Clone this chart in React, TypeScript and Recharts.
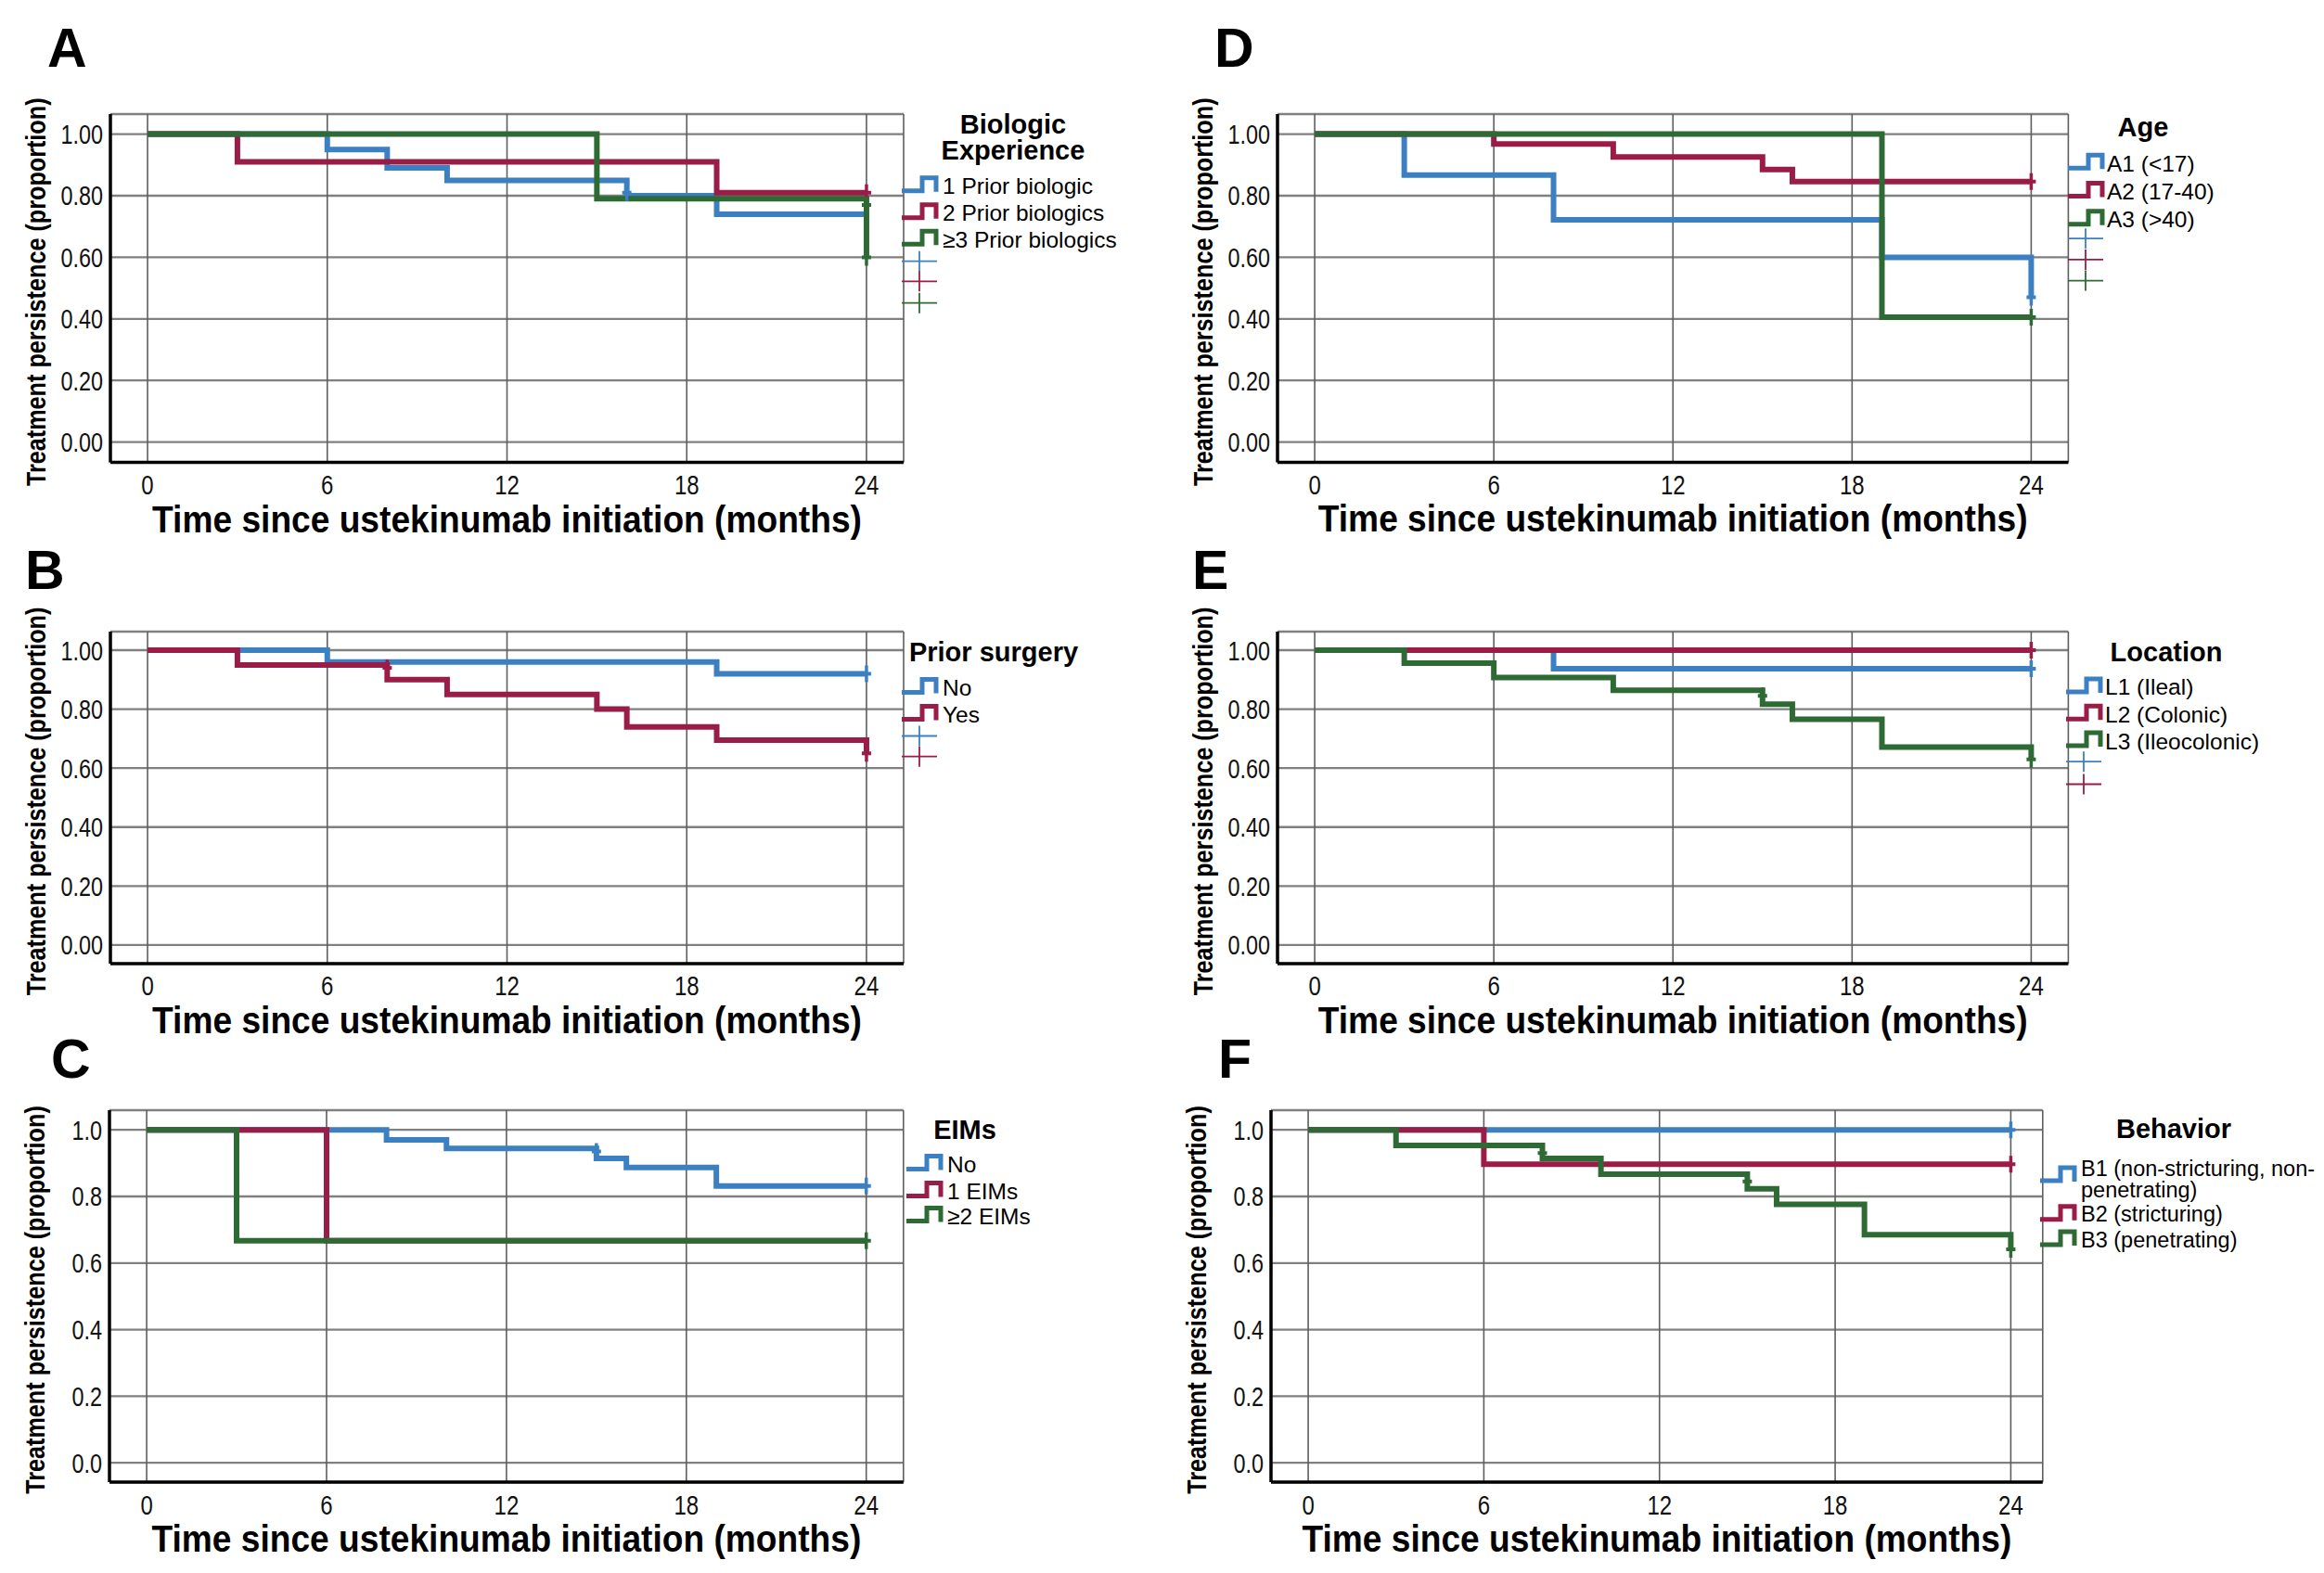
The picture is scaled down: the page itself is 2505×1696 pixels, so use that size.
import React from 'react';
import { ComposedChart, Line, Scatter, XAxis, YAxis, CartesianGrid, Label } from 'recharts';

const BLUE = '#3c80c2';
const RED = '#991d47';
const GREEN = '#2e6b34';
const SANS = '"Liberation Sans", Arial, sans-serif';
const X_TITLE = 'Time since ustekinumab initiation (months)';
const Y_TITLE = 'Treatment persistence (proportion)';

const monthTicks = [0, 6, 12, 18, 24];
const proportionTicks = [0, 0.2, 0.4, 0.6, 0.8, 1];

// A - biologic experience
const bioLabels = ['1 Prior biologic', '2 Prior biologics', '\u22653 Prior biologics'];
const bioOne = [{ t: 0, s: 1 }, { t: 6, s: 0.95 }, { t: 8, s: 0.89 }, { t: 10, s: 0.85 }, { t: 16, s: 0.8 }, { t: 19, s: 0.74 }, { t: 24, s: 0.74 }];
const bioTwo = [{ t: 0, s: 1 }, { t: 3, s: 0.91 }, { t: 19, s: 0.81 }, { t: 24, s: 0.81 }];
const bioThree = [{ t: 0, s: 1 }, { t: 15, s: 0.79 }, { t: 24, s: 0.6 }];
const bioOneCens = [{ t: 16, s: 0.81 }];
const bioTwoCens = [{ t: 24, s: 0.81 }];
const bioThreeCens = [{ t: 24, s: 0.77 }, { t: 24, s: 0.6 }];

// B - prior surgery
const surgeryLabels = ['No', 'Yes'];
const surgeryNo = [{ t: 0, s: 1 }, { t: 6, s: 0.96 }, { t: 19, s: 0.92 }, { t: 24, s: 0.92 }];
const surgeryYes = [{ t: 0, s: 1 }, { t: 3, s: 0.95 }, { t: 8, s: 0.9 }, { t: 10, s: 0.85 }, { t: 15, s: 0.8 }, { t: 16, s: 0.74 }, { t: 19, s: 0.695 }, { t: 24, s: 0.65 }];
const surgeryNoCens = [{ t: 24, s: 0.92 }];
const surgeryYesCens = [{ t: 8, s: 0.94 }, { t: 24, s: 0.65 }];

// C - extra-intestinal manifestations
const eimLabels = ['No', '1 EIMs', '\u22652 EIMs'];
const eimNone = [{ t: 0, s: 1 }, { t: 8, s: 0.97 }, { t: 10, s: 0.944 }, { t: 15, s: 0.914 }, { t: 16, s: 0.887 }, { t: 19, s: 0.831 }, { t: 24, s: 0.831 }];
const eimOne = [{ t: 0, s: 1 }, { t: 6, s: 0.667 }, { t: 24, s: 0.667 }];
const eimTwo = [{ t: 0, s: 1 }, { t: 3, s: 0.667 }, { t: 24, s: 0.667 }];
const eimNoneCens = [{ t: 15, s: 0.935 }, { t: 24, s: 0.831 }];
const eimOneCens: { t: number; s: number }[] = [];
const eimTwoCens = [{ t: 24, s: 0.667 }];

// D - age at diagnosis
const ageLabels = ['A1 (<17)', 'A2 (17-40)', 'A3 (>40)'];
const ageA1 = [{ t: 0, s: 1 }, { t: 3, s: 0.867 }, { t: 8, s: 0.722 }, { t: 19, s: 0.6 }, { t: 24, s: 0.47 }];
const ageA2 = [{ t: 0, s: 1 }, { t: 6, s: 0.968 }, { t: 10, s: 0.926 }, { t: 15, s: 0.885 }, { t: 16, s: 0.846 }, { t: 24, s: 0.846 }];
const ageA3 = [{ t: 0, s: 1 }, { t: 19, s: 0.405 }, { t: 24, s: 0.405 }];
const ageA1Cens = [{ t: 24, s: 0.47 }];
const ageA2Cens = [{ t: 24, s: 0.846 }];
const ageA3Cens = [{ t: 24, s: 0.405 }];

// E - disease location
const locationLabels = ['L1 (Ileal)', 'L2 (Colonic)', 'L3 (Ileocolonic)'];
const locL1 = [{ t: 0, s: 1 }, { t: 8, s: 0.937 }, { t: 24, s: 0.937 }];
const locL2 = [{ t: 0, s: 1 }, { t: 24, s: 1 }];
const locL3 = [{ t: 0, s: 1 }, { t: 3, s: 0.956 }, { t: 6, s: 0.907 }, { t: 10, s: 0.864 }, { t: 15, s: 0.817 }, { t: 16, s: 0.766 }, { t: 19, s: 0.671 }, { t: 24, s: 0.63 }];
const locL1Cens = [{ t: 24, s: 0.937 }];
const locL2Cens = [{ t: 24, s: 1 }];
const locL3Cens = [{ t: 15, s: 0.845 }, { t: 24, s: 0.63 }];

// F - disease behaviour
const behaviorLabels = ['B1 (non-stricturing, non-|penetrating)', 'B2 (stricturing)', 'B3 (penetrating)'];
const behB1 = [{ t: 0, s: 1 }, { t: 24, s: 1 }];
const behB2 = [{ t: 0, s: 1 }, { t: 6, s: 0.897 }, { t: 24, s: 0.897 }];
const behB3 = [{ t: 0, s: 1 }, { t: 3, s: 0.953 }, { t: 8, s: 0.914 }, { t: 10, s: 0.867 }, { t: 15, s: 0.823 }, { t: 16, s: 0.776 }, { t: 19, s: 0.685 }, { t: 24, s: 0.641 }];
const behB1Cens = [{ t: 24, s: 1 }];
const behB2Cens = [{ t: 24, s: 0.897 }];
const behB3Cens = [{ t: 8, s: 0.93 }, { t: 15, s: 0.845 }, { t: 24, s: 0.641 }];

const COLORS = [BLUE, RED, GREEN];

const panels = [
  {
    letter: 'A', letterPos: [51, 72],
    plot: { l: 118.6, t: 123, r: 973.6, b: 498.5 },
    xDomain: [-1.24, 25.24], yDomain: [-0.066, 1.065], decimals: 2,
    series: [bioOne, bioTwo, bioThree], censored: [bioOneCens, bioTwoCens, bioThreeCens],
    legend: { title: ['Biologic', 'Experience'], titleX: 1092, titleY: [144, 172], iconX: 972, textX: 1016, labels: bioLabels, itemY: [209.3, 238.3, 266.7], plusY: [281.7, 303.3, 326.7] },
  },
  {
    letter: 'B', letterPos: [27, 635],
    plot: { l: 118.6, t: 680.7, r: 973.6, b: 1038.6 },
    xDomain: [-1.24, 25.24], yDomain: [-0.063, 1.063], decimals: 2,
    series: [surgeryNo, surgeryYes], censored: [surgeryNoCens, surgeryYesCens],
    legend: { title: ['Prior surgery'], titleX: 1071, titleY: [713], iconX: 972, textX: 1016, labels: surgeryLabels, itemY: [750, 779], plusY: [793.5, 815.7] },
  },
  {
    letter: 'C', letterPos: [55, 1162],
    plot: { l: 117.8, t: 1197, r: 973.6, b: 1598 },
    xDomain: [-1.24, 25.24], yDomain: [-0.058, 1.059], decimals: 1,
    series: [eimNone, eimOne, eimTwo], censored: [eimNoneCens, eimOneCens, eimTwoCens],
    legend: { title: ['EIMs'], titleX: 1040, titleY: [1227.5], iconX: 977, textX: 1021, labels: eimLabels, itemY: [1264, 1293, 1320], plusY: [] },
  },
  {
    letter: 'D', letterPos: [1309, 72],
    plot: { l: 1376.6, t: 123, r: 2229, b: 498.5 },
    xDomain: [-1.246, 25.243], yDomain: [-0.066, 1.065], decimals: 2,
    series: [ageA1, ageA2, ageA3], censored: [ageA1Cens, ageA2Cens, ageA3Cens],
    legend: { title: ['Age'], titleX: 2310, titleY: [146.5], iconX: 2229, textX: 2271, labels: ageLabels, itemY: [184.7, 214.9, 245.2], plusY: [257.2, 279.9, 302.6] },
  },
  {
    letter: 'E', letterPos: [1285, 635],
    plot: { l: 1376.6, t: 680.7, r: 2229, b: 1038.6 },
    xDomain: [-1.246, 25.243], yDomain: [-0.063, 1.063], decimals: 2,
    series: [locL1, locL2, locL3], censored: [locL1Cens, locL2Cens, locL3Cens],
    legend: { title: ['Location'], titleX: 2335, titleY: [713], iconX: 2227, textX: 2269, labels: locationLabels, itemY: [749.4, 778.8, 807.5], plusY: [821.2, 845.5] },
  },
  {
    letter: 'F', letterPos: [1313, 1162],
    plot: { l: 1370.2, t: 1197, r: 2202, b: 1598 },
    xDomain: [-1.27, 25.09], yDomain: [-0.058, 1.059], decimals: 1,
    series: [behB1, behB2, behB3], censored: [behB1Cens, behB2Cens, behB3Cens],
    legend: { title: ['Behavior'], titleX: 2343, titleY: [1226.5], iconX: 2199, textX: 2243, labels: behaviorLabels, itemY: [1267.6, 1316.6, 1344.9], iconY: [1266, 1307.8, 1335], plusY: [] },
  },
];

const XTick = (props: any) => {
  const { x, y, payload } = props;
  return (
    <g transform={`translate(${x},${y})`}>
      <text x={0} y={0} dy={26.5} textAnchor="middle" transform="scale(0.8,1)" fontSize={30} fontFamily={SANS} fill="#111">
        {payload.value}
      </text>
    </g>
  );
};

const makeYTick = (decimals: number) => (props: any) => {
  const { x, y, payload } = props;
  return (
    <g transform={`translate(${x},${y})`}>
      <text x={0} y={0} dy={10.5} textAnchor="end" transform="scale(0.78,1)" fontSize={30} fontFamily={SANS} fill="#111">
        {Number(payload.value).toFixed(decimals)}
      </text>
    </g>
  );
};

const censorShape = (color: string) => (p: any) => (
  <g>
    <line x1={p.cx} x2={p.cx} y1={p.cy - 9} y2={p.cy + 9} stroke={color} strokeWidth={3.5} />
    <line x1={p.cx - 5} x2={p.cx + 5} y1={p.cy} y2={p.cy} stroke={color} strokeWidth={4} />
  </g>
);

const ML = 10;
const YW = 100;
const MT = 80;
const MR = 10;
const XH = 40;
const MB = 80;

const Panel = ({ cfg }: { cfg: any }) => {
  const { plot } = cfg;
  const left = plot.l - YW - ML;
  const top = plot.t - MT;
  const width = plot.r - left + MR;
  const height = plot.b - top + XH + MB;
  return (
    <div style={{ position: 'absolute', left, top, width, height }}>
      <ComposedChart width={width} height={height} margin={{ top: MT, right: MR, left: ML, bottom: MB }}>
        <CartesianGrid horizontal vertical={false} stroke="#808080" strokeWidth={2.3} />
        <CartesianGrid horizontal={false} vertical stroke="#5e5e5e" strokeWidth={1.6} />
        <XAxis
          type="number"
          dataKey="t"
          domain={cfg.xDomain}
          ticks={monthTicks}
          interval={0}
          allowDataOverflow
          height={XH}
          tickLine={false}
          axisLine={{ stroke: '#000', strokeWidth: 3.5 }}
          tick={<XTick />}
        >
          <Label
            content={(p: any) => {
              const vb = p.viewBox;
              const cx = vb.x + vb.width / 2;
              const by = vb.y + vb.height + 35;
              return (
                <g transform={`translate(${cx},${by}) scale(0.906,1)`}>
                  <text x={0} y={0} textAnchor="middle" fontSize={41} fontWeight={700} fontFamily={SANS} fill="#000">
                    {X_TITLE}
                  </text>
                </g>
              );
            }}
          />
        </XAxis>
        <YAxis
          type="number"
          domain={cfg.yDomain}
          ticks={proportionTicks}
          interval={0}
          allowDataOverflow
          width={YW}
          tickLine={false}
          axisLine={{ stroke: '#000', strokeWidth: 3.5 }}
          tick={makeYTick(cfg.decimals)}
        >
          <Label
            content={(p: any) => {
              const vb = p.viewBox;
              const cx = vb.x + 20;
              const cy = vb.y + vb.height / 2 + 4;
              return (
                <g transform={`translate(${cx},${cy}) rotate(-90) scale(0.869,1)`}>
                  <text x={0} y={0} dy={10.4} textAnchor="middle" fontSize={29} fontWeight={700} fontFamily={SANS} fill="#000">
                    {Y_TITLE}
                  </text>
                </g>
              );
            }}
          />
        </YAxis>
        {cfg.series.map((pts: any[], i: number) => (
          <Line
            key={`line-${i}`}
            data={pts}
            dataKey="s"
            type="stepAfter"
            stroke={COLORS[i]}
            strokeWidth={6}
            dot={false}
            activeDot={false}
            isAnimationActive={false}
          />
        ))}
        {cfg.censored.map((pts: any[], i: number) => (
          <Scatter
            key={`cens-${i}`}
            data={pts}
            dataKey="s"
            fill={COLORS[i]}
            shape={censorShape(COLORS[i])}
            isAnimationActive={false}
          />
        ))}
      </ComposedChart>
    </div>
  );
};

const LegendIcon = ({ x, y, color }: { x: number; y: number; color: string }) => (
  <path d={`M${x},${y + 7} H${x + 22} V${y - 7} H${x + 37} V${y + 8}`} fill="none" stroke={color} strokeWidth={5} />
);

const PlusIcon = ({ x, y, color }: { x: number; y: number; color: string }) => (
  <g stroke={color} strokeWidth={1.8}>
    <line x1={x} x2={x + 38} y1={y} y2={y} />
    <line x1={x + 19} x2={x + 19} y1={y - 11} y2={y + 11} />
  </g>
);

const Overlay = () => (
  <svg width={2505} height={1696} style={{ position: 'absolute', left: 0, top: 0, pointerEvents: 'none' }}>
    {panels.map((p) => {
      const lg: any = p.legend;
      return (
        <g key={p.letter}>
          <text x={p.letterPos[0]} y={p.letterPos[1]} fontSize={59} fontWeight={700} fontFamily={SANS} fill="#000">
            {p.letter}
          </text>
          {lg.title.map((t: string, i: number) => (
            <text key={t} x={lg.titleX} y={lg.titleY[i]} textAnchor="middle" fontSize={29} fontWeight={700} fontFamily={SANS} fill="#000">
              {t}
            </text>
          ))}
          {lg.labels.map((label: string, i: number) => {
            const lines = label.split('|');
            const iconY = lg.iconY ? lg.iconY[i] : lg.itemY[i] - 10.5;
            return (
              <g key={label}>
                <LegendIcon x={lg.iconX} y={iconY} color={COLORS[i]} />
                {lines.map((ln, j) => (
                  <text key={ln} x={lg.textX} y={lg.itemY[i] + j * 23} fontSize={p.letter === 'F' ? 23.5 : 24.5} fontFamily={SANS} fill="#000">
                    {ln}
                  </text>
                ))}
              </g>
            );
          })}
          {lg.plusY.map((py: number, i: number) => (
            <PlusIcon key={`plus-${i}`} x={lg.iconX} y={py} color={COLORS[i]} />
          ))}
        </g>
      );
    })}
  </svg>
);

export default function App() {
  return (
    <div style={{ position: 'absolute', left: 0, top: 0, width: 2505, height: 1696, background: '#fff', overflow: 'hidden' }}>
      {panels.map((p) => (
        <Panel key={p.letter} cfg={p} />
      ))}
      <Overlay />
    </div>
  );
}
